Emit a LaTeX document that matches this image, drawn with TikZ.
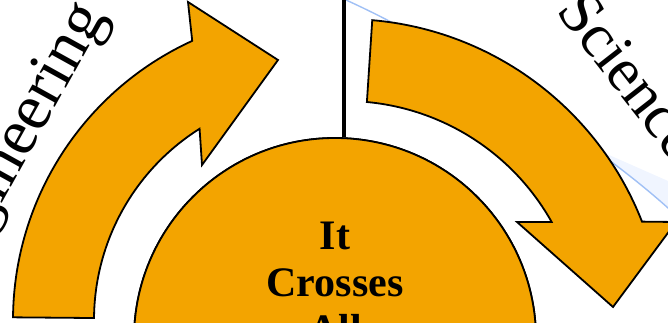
\documentclass[tikz,border=0pt]{standalone}
\usepackage{fontspec}
\setmainfont{Liberation Serif}
\usetikzlibrary{calc}
\definecolor{arroworange}{RGB}{243,164,0}
\definecolor{faintblue}{RGB}{160,192,245}
\definecolor{paleblue}{RGB}{240,245,255}
\tikzset{
  arrowshape/.style={fill=arroworange, draw=black, line width=1.8pt, line join=miter},
  corecircle/.style={circle, fill=arroworange, draw=black, line width=1.8pt, minimum size=402pt, inner sep=0pt},
  arctext/.style={inner sep=0pt, anchor=base west},
  coretext/.style={inner sep=0pt, anchor=base, font=\fontsize{42}{46}\selectfont\bfseries}
}
\begin{document}
\begin{tikzpicture}[x=1pt,y=1pt]
\useasboundingbox (0,0) rectangle (668,323);
\clip (0,0) rectangle (668,323);
% faint background guide line
\coordinate (g0) at (336,328);
\coordinate (g1) at (346,323);
\coordinate (g2) at (668,115);
\coordinate (g3) at (700,85);
\fill[paleblue] (600,172) -- (668,142) -- (668,116) -- cycle;
\draw[faintblue, line width=1.4pt] (g0) -- (g1) .. controls (456,273) and (598,178) .. (g2) -- (g3);
% vertical divider
\coordinate (vtop) at (344,330);
% centres of the arrow arcs
\coordinate (C1) at (320,3);
\coordinate (C2) at (345,-15);
% core circle
\node[corecircle] (core) at (335,-16) {};
\draw[line width=3.4pt] (vtop) -- (vtop |- core.north);
\node[corecircle] at (core) {};
% left arrow (Engineering)
\draw[arrowshape] ($(C1)+(179.5:307)$) arc[start angle=179.5, end angle=114.6, radius=307]
  -- (188,321) -- (278,263) -- (202,158)
  -- ($(C1)+(122.2:226)$) arc[start angle=122.2, end angle=179.5, radius=226] -- cycle;
% right arrow (Science)
\draw[arrowshape] ($(C2)+(85.1:319)$) arc[start angle=85.1, end angle=21.4, radius=319]
  -- (676,101) -- (613,16) -- (517,101)
  -- ($(C2)+(29.3:237)$) arc[start angle=29.3, end angle=84.7, radius=237] -- cycle;
% arc labels
\node[arctext, rotate=61, font=\fontsize{66}{72}\selectfont] (eng) at (-50,25) {Engineering};
\node[arctext, rotate=-52, font=\fontsize{62}{70}\selectfont] (sci) at (555,312) {Science};
% core text
\node[coretext] (t1) at (335,73) {It};
\node[coretext] (t2) at (335,26) {Crosses};
\node[coretext] (t3) at (335,-21) {All};
\end{tikzpicture}
\end{document}
